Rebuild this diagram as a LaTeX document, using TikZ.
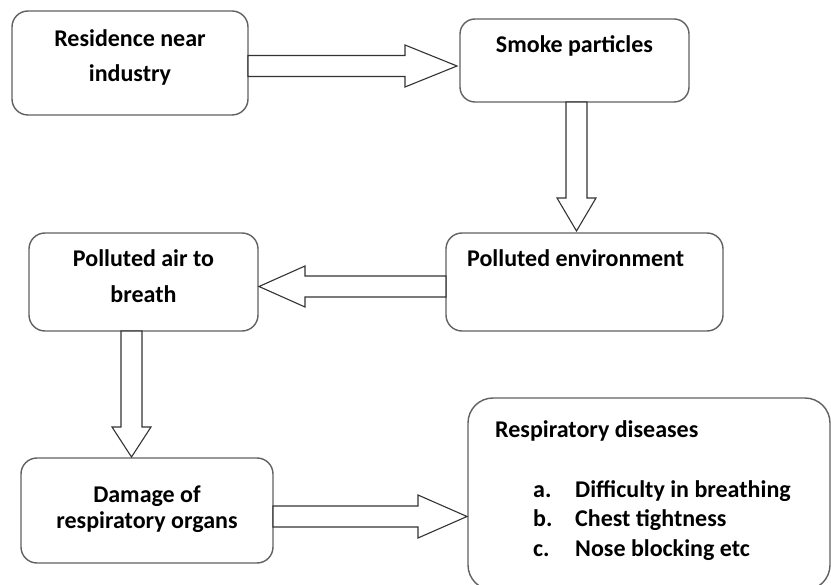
\documentclass[tikz,border=0pt]{standalone}
\usepackage{fontspec}
\setmainfont{Carlito}
\begin{document}
\begin{tikzpicture}[x=1pt,y=-1pt,
  box/.style={draw=black!62, line width=1.4pt, rounded corners=16pt, inner sep=0pt, outer sep=0pt},
  txt/.style={font=\fontsize{24}{28}\selectfont\bfseries, inner sep=0pt, text=black},
  blk/.style={draw=black!80, line width=1.1pt, fill=white, line join=miter}]
\useasboundingbox[fill=white] (0,0) rectangle (831,585);
% boxes
\node[box, minimum width=236pt, minimum height=104pt] (b1) at (130,63) {};
\node[box, minimum width=229pt, minimum height=83pt, rounded corners=15pt] (b2) at (574.5,60.5) {};
\node[box, minimum width=277pt, minimum height=98pt] (b3) at (584.5,282) {};
\node[box, minimum width=229pt, minimum height=98pt] (b4) at (143.5,282) {};
\node[box, minimum width=252pt, minimum height=105pt] (b5) at (147,510.5) {};
\node[box, minimum width=362pt, minimum height=192pt, rounded corners=25pt] (b6) at (649,494) {};
% texts
\node[txt, anchor=base] (t1a) at (130,47) {Residence near};
\node[txt, anchor=base] (t1b) at (130,82) {industry};
\node[txt, anchor=base] (t2) at (574.5,53) {Smoke particles};
\node[txt, anchor=base west] (t3) at (467,267) {Polluted environment};
\node[txt, anchor=base] (t4a) at (143.5,267) {Polluted air to};
\node[txt, anchor=base] (t4b) at (143.5,303) {breath};
\node[txt, anchor=base] (t5a) at (147,503) {Damage of};
\node[txt, anchor=base] (t5b) at (147,529) {respiratory organs};
\node[txt, anchor=base west] (t6) at (495,438) {Respiratory diseases};
\node[txt, anchor=base west] (la) at (533,497) {a.};
\node[txt, anchor=base west] (ia) at (575,497) {Difficulty in breathing};
\node[txt, anchor=base west] (lb) at (533,527) {b.};
\node[txt, anchor=base west] (ib) at (575,527) {Chest tightness};
\node[txt, anchor=base west] (lc) at (533,557) {c.};
\node[txt, anchor=base west] (ic) at (575,557) {Nose blocking etc};
% block arrows (from box to box)
\coordinate (a1s) at (b1.east |- 0,66);
\coordinate (a1e) at (457,66);
\draw[blk] ([yshift=10.5pt]a1s) -- (405,55.5) -- (405,45) -- (a1e) -- (405,87) -- (405,76.5) -- ([yshift=-10.5pt]a1s) -- cycle;
\coordinate (a2s) at (b2.south -| 576.5,0);
\coordinate (a2e) at (576.5,231);
\draw[blk] ([xshift=-10.5pt]a2s) -- (566,198) -- (557,198) -- (a2e) -- (596,198) -- (587,198) -- ([xshift=10.5pt]a2s) -- cycle;
\coordinate (a3s) at (b3.west |- 0,286.5);
\coordinate (a3e) at (259,286.5);
\draw[blk] ([yshift=10.5pt]a3s) -- (305,276) -- (305,266) -- (a3e) -- (305,307) -- (305,297) -- ([yshift=-10.5pt]a3s) -- cycle;
\coordinate (a4s) at (b4.south -| 131.5,0);
\coordinate (a4e) at (131.5,457);
\draw[blk] ([xshift=-10.5pt]a4s) -- (121,427) -- (112,427) -- (a4e) -- (151,427) -- (142,427) -- ([xshift=10.5pt]a4s) -- cycle;
\coordinate (a5s) at (b5.east |- 0,516.5);
\coordinate (a5e) at (467,516.5);
\draw[blk] ([yshift=10.5pt]a5s) -- (418,506) -- (418,495) -- (a5e) -- (418,538) -- (418,527) -- ([yshift=-10.5pt]a5s) -- cycle;
\end{tikzpicture}
\end{document}
